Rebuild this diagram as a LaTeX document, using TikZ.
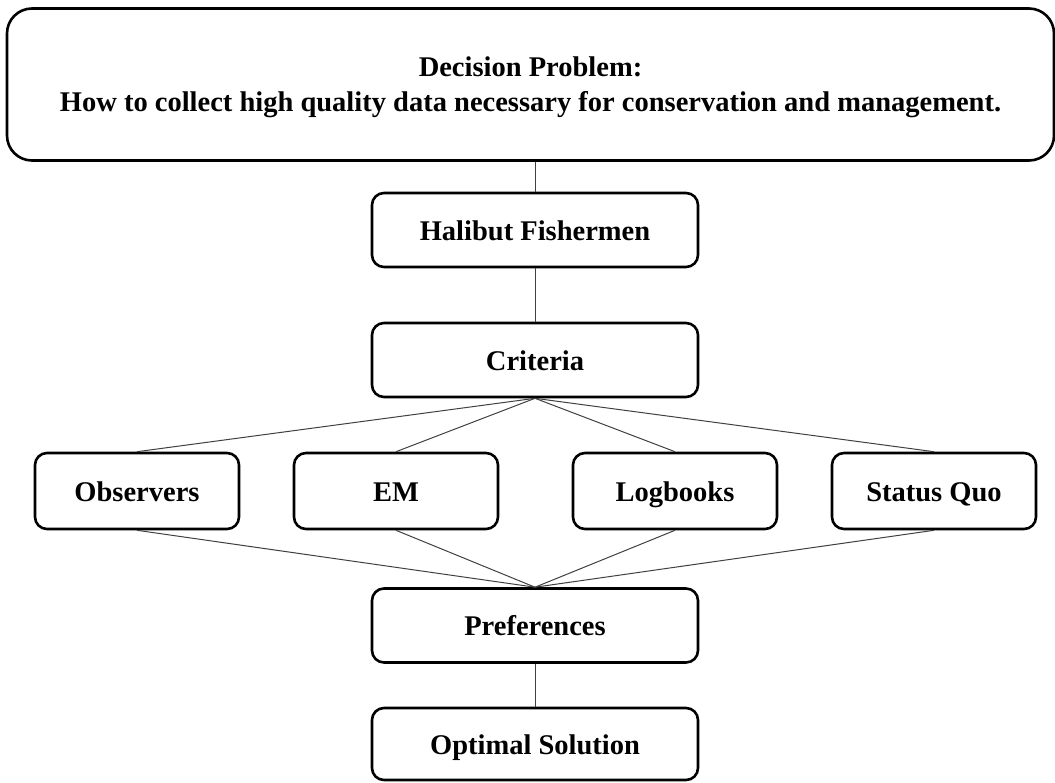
\documentclass[tikz,border=0pt]{standalone}
\usepackage{fontspec}
\setmainfont{Liberation Serif}
\begin{document}
\begin{tikzpicture}[x=1pt,y=-1pt,
  box/.style={draw=black, line width=2.6pt, rounded corners=12pt, inner sep=0pt,
    minimum width=326pt, minimum height=74pt, align=center,
    text height=20pt, text depth=0pt,
    font=\fontsize{28.5}{35}\selectfont\bfseries},
  smallbox/.style={box, minimum width=204pt, minimum height=76pt},
  link/.style={line width=1pt, draw=black!75}]
\useasboundingbox (0,0) rectangle (1055,782);
\node[box, rounded corners=25pt, minimum width=1047pt, minimum height=152pt,
  text height=, text depth=0pt, yshift=-1.5pt] (dp) at (530.5,83)
  {Decision Problem:\\How to collect high quality data necessary for conservation and management.};
\node[box] (hf) at (535,230) {Halibut Fishermen};
\node[box] (cr) at (535,360) {Criteria};
\node[smallbox] (ob) at (137,491) {Observers};
\node[smallbox] (em) at (396,491) {EM};
\node[smallbox] (lb) at (675,491) {Logbooks};
\node[smallbox] (sq) at (934,491) {Status Quo};
\node[box] (pr) at (535,625.5) {Preferences};
\node[box, minimum height=72pt] (os) at (535,744) {Optimal Solution};
\draw[link] (hf.north |- dp.south) -- (hf.north);
\draw[link] (hf.south) -- (cr.north);
\foreach \n in {ob,em,lb,sq}{
  \draw[link] (cr.south) -- (\n.north);
  \draw[link] (\n.south) -- (pr.north);
}
\draw[link] (pr.south) -- (os.north);
\end{tikzpicture}
\end{document}
